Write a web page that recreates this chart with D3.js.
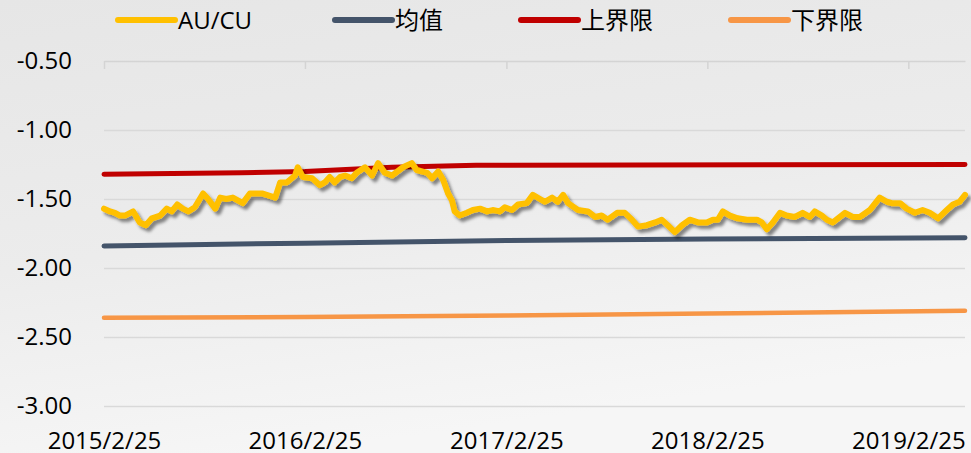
<!DOCTYPE html>
<html>
<head>
<meta charset="utf-8">
<script src="https://cdn.jsdelivr.net/npm/d3@7"></script>
<style>
  html, body { margin: 0; padding: 0; }
  body { width: 971px; height: 453px; overflow: hidden; }
  svg { display: block; }
</style>
</head>
<body>
<svg id="chart" width="971" height="453"></svg>
<script>
// ---------------- data ----------------
const seriesNames = ["AU/CU", "均值", "上界限", "下界限"];
const yTickValues = [-0.5, -1.0, -1.5, -2.0, -2.5, -3.0];
const xTickLabels = ["2015/2/25", "2016/2/25", "2017/2/25", "2018/2/25", "2019/2/25"];
const xDomain = ["2015-02-25", "2019-06-08"];

const auDates = [
  "2015-02-25","2015-03-08","2015-03-17","2015-03-26","2015-04-04","2015-04-19","2015-05-01","2015-05-12",
  "2015-05-23","2015-06-07","2015-06-19","2015-06-28","2015-07-08","2015-07-18","2015-07-28","2015-08-09",
  "2015-08-24","2015-09-02","2015-09-15","2015-09-24","2015-10-05","2015-10-17","2015-11-04","2015-11-17",
  "2015-12-09","2016-01-02","2016-01-11","2016-01-23","2016-02-07","2016-02-12","2016-02-21","2016-03-09",
  "2016-03-23","2016-04-01","2016-04-10","2016-04-19","2016-04-29","2016-05-08","2016-05-20","2016-05-29",
  "2016-06-13","2016-06-26","2016-07-07","2016-07-19","2016-08-01","2016-08-21","2016-09-06","2016-09-15",
  "2016-10-04","2016-10-13","2016-10-24","2016-11-02","2016-11-11","2016-11-18","2016-11-23","2016-12-02",
  "2016-12-15","2016-12-26","2017-01-08","2017-01-21","2017-01-31","2017-02-13","2017-02-22","2017-03-07",
  "2017-03-18","2017-04-03","2017-04-14","2017-04-27","2017-05-06","2017-05-19","2017-05-29","2017-06-08",
  "2017-06-17","2017-07-05","2017-07-23","2017-08-05","2017-08-17","2017-08-28","2017-09-14","2017-09-28",
  "2017-10-11","2017-10-22","2017-11-07","2017-11-22","2017-12-04","2017-12-15","2017-12-28","2018-01-10",
  "2018-01-24","2018-02-08","2018-02-24","2018-03-07","2018-03-16","2018-03-25","2018-04-07","2018-04-21",
  "2018-05-08","2018-05-26","2018-06-04","2018-06-13","2018-06-24","2018-07-07","2018-07-19","2018-08-03",
  "2018-08-17","2018-08-30","2018-09-08","2018-09-21","2018-09-30","2018-10-11","2018-11-02","2018-11-16",
  "2018-11-29","2018-12-17","2019-01-04","2019-01-17","2019-01-26","2019-02-10","2019-02-22","2019-03-09",
  "2019-03-23","2019-04-05","2019-04-20","2019-05-06","2019-05-17","2019-05-29","2019-06-08"
];
const auValues = [
  -1.57,-1.59,-1.60,-1.62,-1.62,-1.59,-1.67,-1.69,
  -1.64,-1.62,-1.57,-1.59,-1.54,-1.57,-1.59,-1.56,
  -1.46,-1.50,-1.57,-1.49,-1.50,-1.49,-1.53,-1.46,
  -1.46,-1.49,-1.38,-1.38,-1.33,-1.27,-1.34,-1.35,
  -1.40,-1.38,-1.34,-1.38,-1.34,-1.33,-1.35,-1.31,
  -1.27,-1.33,-1.24,-1.31,-1.33,-1.27,-1.24,-1.29,
  -1.31,-1.35,-1.30,-1.36,-1.46,-1.51,-1.59,-1.62,
  -1.60,-1.58,-1.57,-1.59,-1.58,-1.59,-1.56,-1.58,
  -1.54,-1.53,-1.47,-1.50,-1.52,-1.49,-1.52,-1.47,
  -1.53,-1.58,-1.59,-1.63,-1.62,-1.65,-1.60,-1.60,
  -1.65,-1.70,-1.69,-1.67,-1.65,-1.69,-1.74,-1.69,
  -1.65,-1.67,-1.67,-1.65,-1.65,-1.59,-1.62,-1.64,
  -1.65,-1.65,-1.67,-1.72,-1.67,-1.60,-1.62,-1.63,
  -1.60,-1.63,-1.59,-1.62,-1.65,-1.67,-1.60,-1.63,
  -1.63,-1.58,-1.49,-1.52,-1.53,-1.53,-1.57,-1.60,
  -1.58,-1.60,-1.64,-1.58,-1.54,-1.52,-1.47
];

const meanDates = ["2015-02-25","2016-02-25","2017-02-25","2018-02-25","2019-06-08"];
const meanValues = [-1.84,-1.82,-1.80,-1.79,-1.78];

const upperDates = ["2015-02-25","2015-11-01","2016-02-25","2016-08-01","2017-01-01","2019-06-08"];
const upperValues = [-1.32,-1.31,-1.30,-1.27,-1.255,-1.25];

const lowerDates = ["2015-02-25","2016-02-25","2017-02-25","2018-02-25","2019-06-08"];
const lowerValues = [-2.36,-2.355,-2.345,-2.33,-2.31];

const colors = ["#FFC000", "#44546A", "#C00000", "#F79646"];

// ---------------- drawing ----------------
const parse = d3.timeParse("%Y-%m-%d");
const parseLabel = d3.timeParse("%Y/%m/%d");
const svg = d3.select("#chart");
const W = 971, H = 453;
const pLeft = 104, pRight = 965, pTop = 61, pBottom = 406;
const FONT = "'Open Sans', 'Noto Sans CJK SC', sans-serif";

// background
const defs = svg.append("defs");
const bg = defs.append("linearGradient").attr("id", "bg").attr("x1", 0).attr("y1", 0).attr("x2", 0.3).attr("y2", 1);
bg.append("stop").attr("offset", "0%").attr("stop-color", "#e6e6e6");
bg.append("stop").attr("offset", "55%").attr("stop-color", "#ececec");
bg.append("stop").attr("offset", "100%").attr("stop-color", "#f6f6f6");
svg.append("rect").attr("width", W).attr("height", H).attr("fill", "url(#bg)");

const f = defs.append("filter").attr("id", "shadow").attr("x", "-5%").attr("y", "-20%").attr("width", "110%").attr("height", "140%");
f.append("feDropShadow").attr("dx", 3).attr("dy", 3.5).attr("stdDeviation", 1.8)
  .attr("flood-color", "#000").attr("flood-opacity", 0.45);

const x = d3.scaleTime().domain(xDomain.map(parse)).range([pLeft, pRight]);
const y = d3.scaleLinear().domain([-3, -0.5]).range([pBottom, pTop]);

// gridlines
const grid = svg.append("g").attr("transform", `translate(${pLeft},0)`)
  .call(d3.axisLeft(y).tickValues(yTickValues.filter(v => v !== -0.5)).tickSize(-(pRight - pLeft)).tickFormat(""));
grid.select(".domain").remove();
grid.selectAll("line").attr("stroke", "#d9d9d9").attr("stroke-width", 1.5);

// top category axis line with ticks
const xTickDates = xTickLabels.map(parseLabel);
const topAxis = svg.append("g").attr("transform", `translate(0,${pTop})`)
  .call(d3.axisBottom(x).tickValues(xTickDates).tickSize(8).tickSizeOuter(0).tickFormat(""));
topAxis.select(".domain").attr("stroke", "#d4d4d4").attr("stroke-width", 1.5);
topAxis.selectAll(".tick line").attr("stroke", "#d4d4d4").attr("stroke-width", 1.5);

// bottom labels
const fmtDate = d3.timeFormat("%Y/%-m/%-d");
const xLab = svg.append("g").attr("transform", `translate(0,${pBottom})`)
  .call(d3.axisBottom(x).tickValues(xTickDates).tickSize(0).tickPadding(26).tickFormat(fmtDate));
xLab.select(".domain").remove();
xLab.selectAll("text").attr("font-family", FONT).attr("font-size", 24).attr("fill", "#000");

// y labels
const yLab = svg.append("g").attr("transform", `translate(${pLeft},0)`)
  .call(d3.axisLeft(y).tickValues(yTickValues).tickSize(0).tickPadding(32).tickFormat(d => d.toFixed(2)));
yLab.select(".domain").remove();
yLab.selectAll("text").attr("font-family", FONT).attr("font-size", 24).attr("fill", "#000");

// lines
const line = d3.line().x(d => x(d[0])).y(d => y(d[1]));
const zipS = (ds, vs) => ds.map((d, i) => [parse(d), vs[i]]);

svg.append("path").datum(zipS(lowerDates, lowerValues))
  .attr("d", line).attr("fill", "none").attr("stroke", colors[3]).attr("stroke-width", 4.5).attr("stroke-linecap", "round");
svg.append("path").datum(zipS(meanDates, meanValues))
  .attr("d", line).attr("fill", "none").attr("stroke", colors[1]).attr("stroke-width", 5).attr("stroke-linecap", "round");
svg.append("path").datum(zipS(upperDates, upperValues))
  .attr("d", line).attr("fill", "none").attr("stroke", colors[2]).attr("stroke-width", 5).attr("stroke-linecap", "round");
svg.append("path").datum(zipS(auDates, auValues))
  .attr("d", line).attr("fill", "none").attr("stroke", colors[0]).attr("stroke-width", 6)
  .attr("stroke-linecap", "round").attr("stroke-linejoin", "round").attr("filter", "url(#shadow)");

// legend
const legendX = [118, 335, 521, 731];
const legend = svg.append("g");
seriesNames.forEach((name, i) => {
  const lx = legendX[i];
  legend.append("line").attr("x1", lx).attr("x2", lx + 57).attr("y1", 20).attr("y2", 20)
    .attr("stroke", colors[i]).attr("stroke-width", 6).attr("stroke-linecap", "round");
  legend.append("text").attr("x", lx + 60).attr("y", 28.5)
    .attr("font-family", FONT).attr("font-size", 24).attr("fill", "#000").text(name);
});
</script>
</body>
</html>
